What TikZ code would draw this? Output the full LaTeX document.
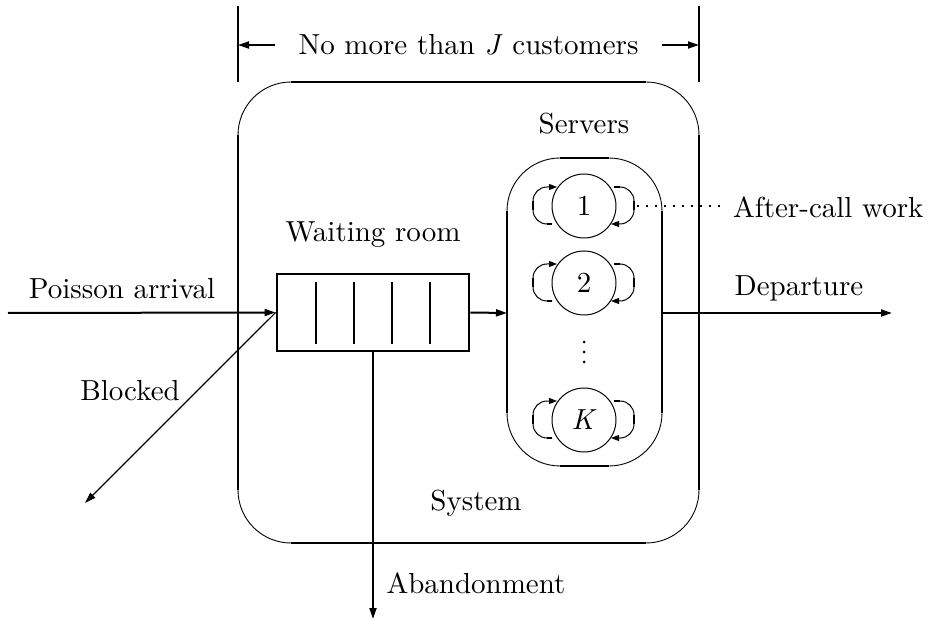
\documentclass[tikz,border=0pt]{standalone}
\usepackage{fontspec}
\setmainfont{lmroman10-regular.otf}[ItalicFont=lmroman10-italic.otf]
\usetikzlibrary{arrows.meta}
\begin{document}
\begin{tikzpicture}[x=1pt,y=-1pt,
  font=\fontsize{29}{34}\selectfont,
  txt/.style={inner sep=0pt},
  thk/.style={line width=2.8pt},
  mthk/.style={line width=2.5pt},
  thn/.style={line width=0.9pt},
  arr/.style={line width=2pt,-{Triangle[length=11pt,width=7pt]}},
  larr/.style={line width=1.2pt,-{Triangle[length=11pt,width=7pt]}},
  loopa/.style={line width=1pt,-{Triangle[length=8pt,width=6pt]}},
  srv/.style={circle,draw,line width=1pt,minimum size=64pt,inner sep=0pt},
  dotline/.style={line width=2.5pt,dash pattern=on 2.5pt off 6.5pt}
]
\useasboundingbox (0,0) rectangle (932,620);

% bracket
\draw[thk] (238,6) -- (238,82);
\draw[thk] (699,6) -- (699,82);
\coordinate (bl) at (238,45);
\coordinate (br) at (699,45);
\node[txt] (jlab) at (468.5,45) {No more than \textit{J} customers};
\draw[arr,shorten <=23pt] (jlab.west) -- (bl);
\draw[arr,shorten <=23pt] (jlab.east) -- (br);

% system box
\draw[thn] (291,82) arc[start angle=270,end angle=180,radius=53];
\draw[thn] (646,82) arc[start angle=270,end angle=360,radius=53];
\draw[thn] (238,490) arc[start angle=180,end angle=90,radius=53];
\draw[thn] (699,490) arc[start angle=0,end angle=90,radius=53];
\draw[thk] (291,82) -- (646,82);
\draw[thk] (291,543) -- (646,543);
\draw[thk] (238,135) -- (238,490);
\draw[thk] (699,135) -- (699,490);

% waiting room
\node[draw,line width=2.8pt,minimum width=192pt,minimum height=77pt,inner sep=0pt] (queue) at (373,312.5) {};
\draw[thk] (316,282) -- (316,344);
\draw[line width=2pt] (354,282) -- (354,344);
\draw[line width=2pt] (392,282) -- (392,344);
\draw[thk] (430,282) -- (430,344);

% servers box
\draw[thn] (560,158) arc[start angle=270,end angle=180,radius=53];
\draw[thn] (609,158) arc[start angle=270,end angle=360,radius=53];
\draw[thn] (507,413) arc[start angle=180,end angle=90,radius=53];
\draw[thn] (662,413) arc[start angle=0,end angle=90,radius=53];
\draw[mthk] (560,158) -- (609,158);
\draw[mthk] (560,466) -- (609,466);
\draw[mthk] (507,211) -- (507,413);
\draw[mthk] (662,211) -- (662,413);
\coordinate (srvW) at (507,313);
\coordinate (srvE) at (662,313);

% servers
\node[srv] (c1) at (584,206) {1};
\node[srv] (c2) at (584,283) {2};
\node[srv] (cK) at (584,420) {\textit{K}};
\foreach \yy in {342,352,362} \fill (584,\yy) circle[radius=1.5pt];

\foreach \nd in {c1,c2,cK} {
  \begin{scope}[shift={(\nd.center)}]
    \draw[loopa] (-32,18) -- (-37,18) arc[start angle=90,end angle=180,radius=14]
      -- (-51,-5) arc[start angle=180,end angle=270,radius=14] -- (-27,-19);
    \draw[mthk] (-37,18) -- (-32,18);
    \draw[mthk] (-51,-5) -- (-51,4);
    \draw[loopa] (30,-19) -- (36,-19) arc[start angle=270,end angle=360,radius=14]
      -- (50,4) arc[start angle=0,end angle=90,radius=14] -- (27,18);
    \draw[mthk] (30,-19) -- (36,-19);
    \draw[mthk] (50,-5) -- (50,4);
  \end{scope}
}

% labels
\node[txt] (srvl) at (584,124) {Servers};
\node[txt] (wr) at (373,235) {Waiting room};
\node[txt] (pa) at (122,289) {Poisson arrival};
\node[txt] (blk) at (130,391) {Blocked};
\node[txt] (sys) at (476,503) {System};
\node[txt] (ab) at (476,583) {Abandonment};
\node[txt] (dep) at (799,288) {Departure};
\node[txt,anchor=west] (acw) at (733,207) {After-call work};

% connectors
\coordinate (arrS) at (8,313);
\draw[arr] (arrS) -- (queue.west);
\coordinate (blkE) at (85,503);
\draw[larr] (queue.west) -- (blkE);
\coordinate (abE) at (373,619);
\draw[arr] (queue.south) -- (abE);
\draw[arr] (queue.east) -- (srvW);
\coordinate (depE) at (892,313);
\draw[arr] (srvE) -- (depE);
\draw[dotline,shorten >=10pt] (c1.east) ++(20,0) -- (acw.west |- c1.east);
\end{tikzpicture}
\end{document}
